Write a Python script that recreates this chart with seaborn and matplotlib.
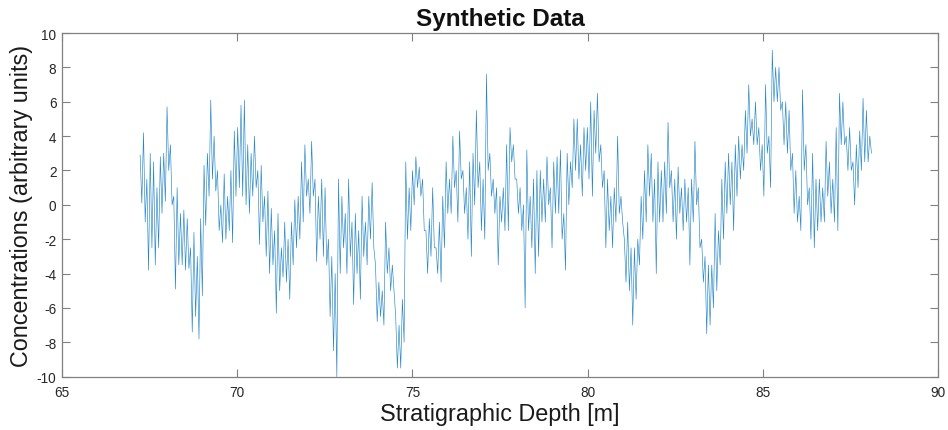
import numpy as np
import pandas as pd
import matplotlib
matplotlib.use("Agg")
import matplotlib.pyplot as plt
import seaborn as sns

# ---- data: local maxima / minima in successive depth windows ----
depth_start = 67.23
depth_end = 88.10

hi_1 = [2.9, 4.2, 1.5, 3.0, 2.5, 1.0, 2.8, 3.0, 5.7, 3.5, 0.5, 1.0, -0.5, -0.3, -0.8, -2.5, -1.6, -3.0, -0.8, 2.3, 3.0, 6.1, 4.0, 2.0, 0.0, 1.8, 0.5]
lo_1 = [0.1, -1.0, -3.8, -2.5, -3.5, -2.5, -0.5, 0.2, 2.0, 0.0, -4.9, -3.5, -3.5, -3.8, -3.7, -7.4, -6.5, -7.8, -5.3, -1.2, 0.5, 1.5, 0.8, -1.5, -2.2, -2.0, -1.5]
hi_2 = [2.0, 4.3, 4.5, 5.8, 6.1, 3.5, 3.0, 4.0, 2.0, 2.3, 0.5, 0.8, -0.2, -1.5, -0.5, -2.5, -1.0, -2.0, -1.0, 0.3, 0.5, 2.5, 3.5, 1.5, 3.7, 1.5, 0.5, 1.5]
lo_2 = [-2.2, 0.5, 1.0, 0.5, 0.0, -0.5, 0.5, 1.0, -2.3, -1.0, -3.0, -4.0, -3.5, -6.3, -5.0, -4.2, -4.5, -5.5, -3.5, -2.5, -2.0, -1.0, 0.5, -0.5, 0.5, -3.3, -2.0, -3.0]
hi_3 = [1.0, -2.0, -3.0, -4.0, 1.5, 0.5, -0.5, 1.5, -1.0, -0.5, -1.5, 0.5, -1.0, 0.5, 1.3, -3.5, -4.5, -5.0, -1.0, -2.5, -3.5, -6.5, -7.0, -5.5, 2.5, 1.0, 2.0, 2.8, 2.2]
lo_3 = [-3.5, -6.5, -8.5, -10.0, -4.0, -2.5, -4.0, -3.0, -5.8, -4.0, -5.5, -3.0, -3.5, -2.0, -2.5, -6.8, -6.5, -7.0, -4.0, -5.0, -5.0, -9.5, -9.5, -8.0, -2.0, -1.5, 0.0, 1.0, 0.5]
hi_4 = [1.5, -1.5, -0.8, 1.0, -2.5, -1.0, 0.5, 2.5, 1.5, 4.0, 2.0, 4.3, 2.0, 1.0, 2.5, 3.0, 5.5, 2.5, 1.5, 7.6, 3.0, 1.5, 1.0, 0.5, 1.0, 3.5, 4.5, 3.5]
lo_4 = [-1.5, -4.0, -3.0, -2.5, -4.0, -4.5, -2.5, -0.5, -0.5, 1.0, -1.0, 1.5, -0.5, -2.0, -3.0, 0.0, 1.0, -1.5, -2.0, 2.0, 0.5, -0.5, -3.5, -1.0, -1.5, -1.5, 2.5, 1.5]
hi_5 = [1.5, 1.0, 0.0, 3.2, 0.5, 1.5, 2.0, 2.0, 1.5, 2.8, 1.0, 2.5, 2.8, 3.2, -0.5, 3.0, 2.5, 5.0, 5.0, 3.5, 4.5, 4.5, 6.0, 5.5, 6.5, 3.5, 2.0, 1.5]
lo_5 = [-0.5, -1.5, -6.0, -1.5, -2.5, -4.0, -3.0, -1.0, -1.0, 0.0, -2.5, -0.5, -0.5, -2.0, -3.8, 0.0, 1.0, 2.0, 1.5, 0.5, 2.0, 1.5, 0.5, 3.0, 2.5, 1.0, -2.5, -1.5]
hi_6 = [0.5, 1.0, 4.0, 0.5, -2.0, -1.0, -2.5, -2.5, -2.0, 0.5, 2.0, 3.5, 3.0, 1.5, 2.5, 2.0, 2.5, 4.8, 2.0, 1.5, 2.2, 1.0, 1.5, 1.0, 1.5, 3.7, 1.0, -2.0]
lo_6 = [-2.5, -1.0, -0.5, -1.0, -4.5, -5.0, -7.0, -5.5, -3.5, -2.0, -1.0, 0.5, -1.0, -4.0, -1.0, -1.0, -0.5, 1.0, -1.0, -2.0, -0.5, -1.5, -1.0, -3.5, -1.0, 0.0, -2.5, -4.5]
hi_7 = [-3.0, -3.5, -3.5, -0.5, -1.5, 1.5, 2.5, 3.0, 2.5, 3.5, 4.0, 3.5, 5.5, 7.0, 5.0, 6.0, 4.5, 3.5, 7.0, 4.0, 9.0, 8.0, 8.0, 6.0, 6.0, 5.5, 3.0, 2.0]
lo_7 = [-7.5, -7.0, -6.0, -5.0, -3.5, -2.0, -0.5, 0.0, -1.5, 0.5, 1.5, 2.0, 3.0, 4.0, 3.5, 3.5, 2.0, 0.5, 3.0, 1.0, 6.0, 6.0, 5.5, 3.5, 3.0, 2.0, -0.5, -1.0]
hi_8 = [0.5, 6.7, 3.5, 1.0, 3.0, 1.5, 1.5, 1.0, 3.7, 2.5, 1.5, 4.5, 6.5, 6.0, 4.0, 4.5, 2.5, 3.5, 4.3, 6.2, 5.5, 4.0]
lo_8 = [-1.5, 2.0, 0.0, -2.0, -2.5, -1.5, -1.0, -1.0, 0.5, -0.5, -1.0, -1.5, 3.5, 3.5, 2.0, 2.0, 0.0, 1.0, 2.0, 2.5, 2.5, 3.0]

x_ticks = [65, 70, 75, 80, 85, 90]
y_ticks = [-10, -8, -6, -4, -2, 0, 2, 4, 6, 8, 10]

hi = hi_1 + hi_2 + hi_3 + hi_4 + hi_5 + hi_6 + hi_7 + hi_8
lo = lo_1 + lo_2 + lo_3 + lo_4 + lo_5 + lo_6 + lo_7 + lo_8
values = []
for h, l in zip(hi, lo):
    values.extend([h, l])
depth = np.linspace(depth_start, depth_end, len(values))
df = pd.DataFrame({"depth": depth, "conc": values})

# ---- plot ----
sns.set_theme(style="white")
plt.rcParams["font.family"] = ["Liberation Sans", "DejaVu Sans"]

fig = plt.figure(figsize=(9.48, 4.31), dpi=100)
ax = fig.add_axes([0.0654, 0.1237, 0.9241, 0.7974])

sns.lineplot(data=df, x="depth", y="conc", ax=ax, estimator=None, sort=False,
             color="#0072BD", linewidth=0.45, alpha=0.85)

ax.set_xlim(65, 90)
ax.set_ylim(-10, 10)
ax.set_xticks(x_ticks)
ax.set_yticks(y_ticks)
ax.set_xticklabels([str(t) for t in x_ticks])
ax.set_yticklabels([str(t) for t in y_ticks])

spine_col = "#808080"
for s in ax.spines.values():
    s.set_visible(True)
    s.set_color(spine_col)
    s.set_linewidth(0.9)

ax.tick_params(axis="x", pad=6)
ax.tick_params(axis="y", pad=4)
ax.tick_params(axis="both", which="both", direction="in", length=6, width=0.8,
               color=spine_col, labelsize=9.8, labelcolor="#262626",
               top=True, right=True, bottom=True, left=True)
ax.grid(False)

ax.set_title("Synthetic Data", fontsize=17.5, fontweight="bold", color="#111111", pad=6)
ax.set_xlabel("Stratigraphic Depth [m]", fontsize=16.8, color="#1a1a1a", labelpad=2)
ax.set_ylabel("Concentrations (arbitrary units)", fontsize=16.8, color="#1a1a1a", labelpad=3)

fig.savefig("out.png", dpi=100, facecolor="white")
